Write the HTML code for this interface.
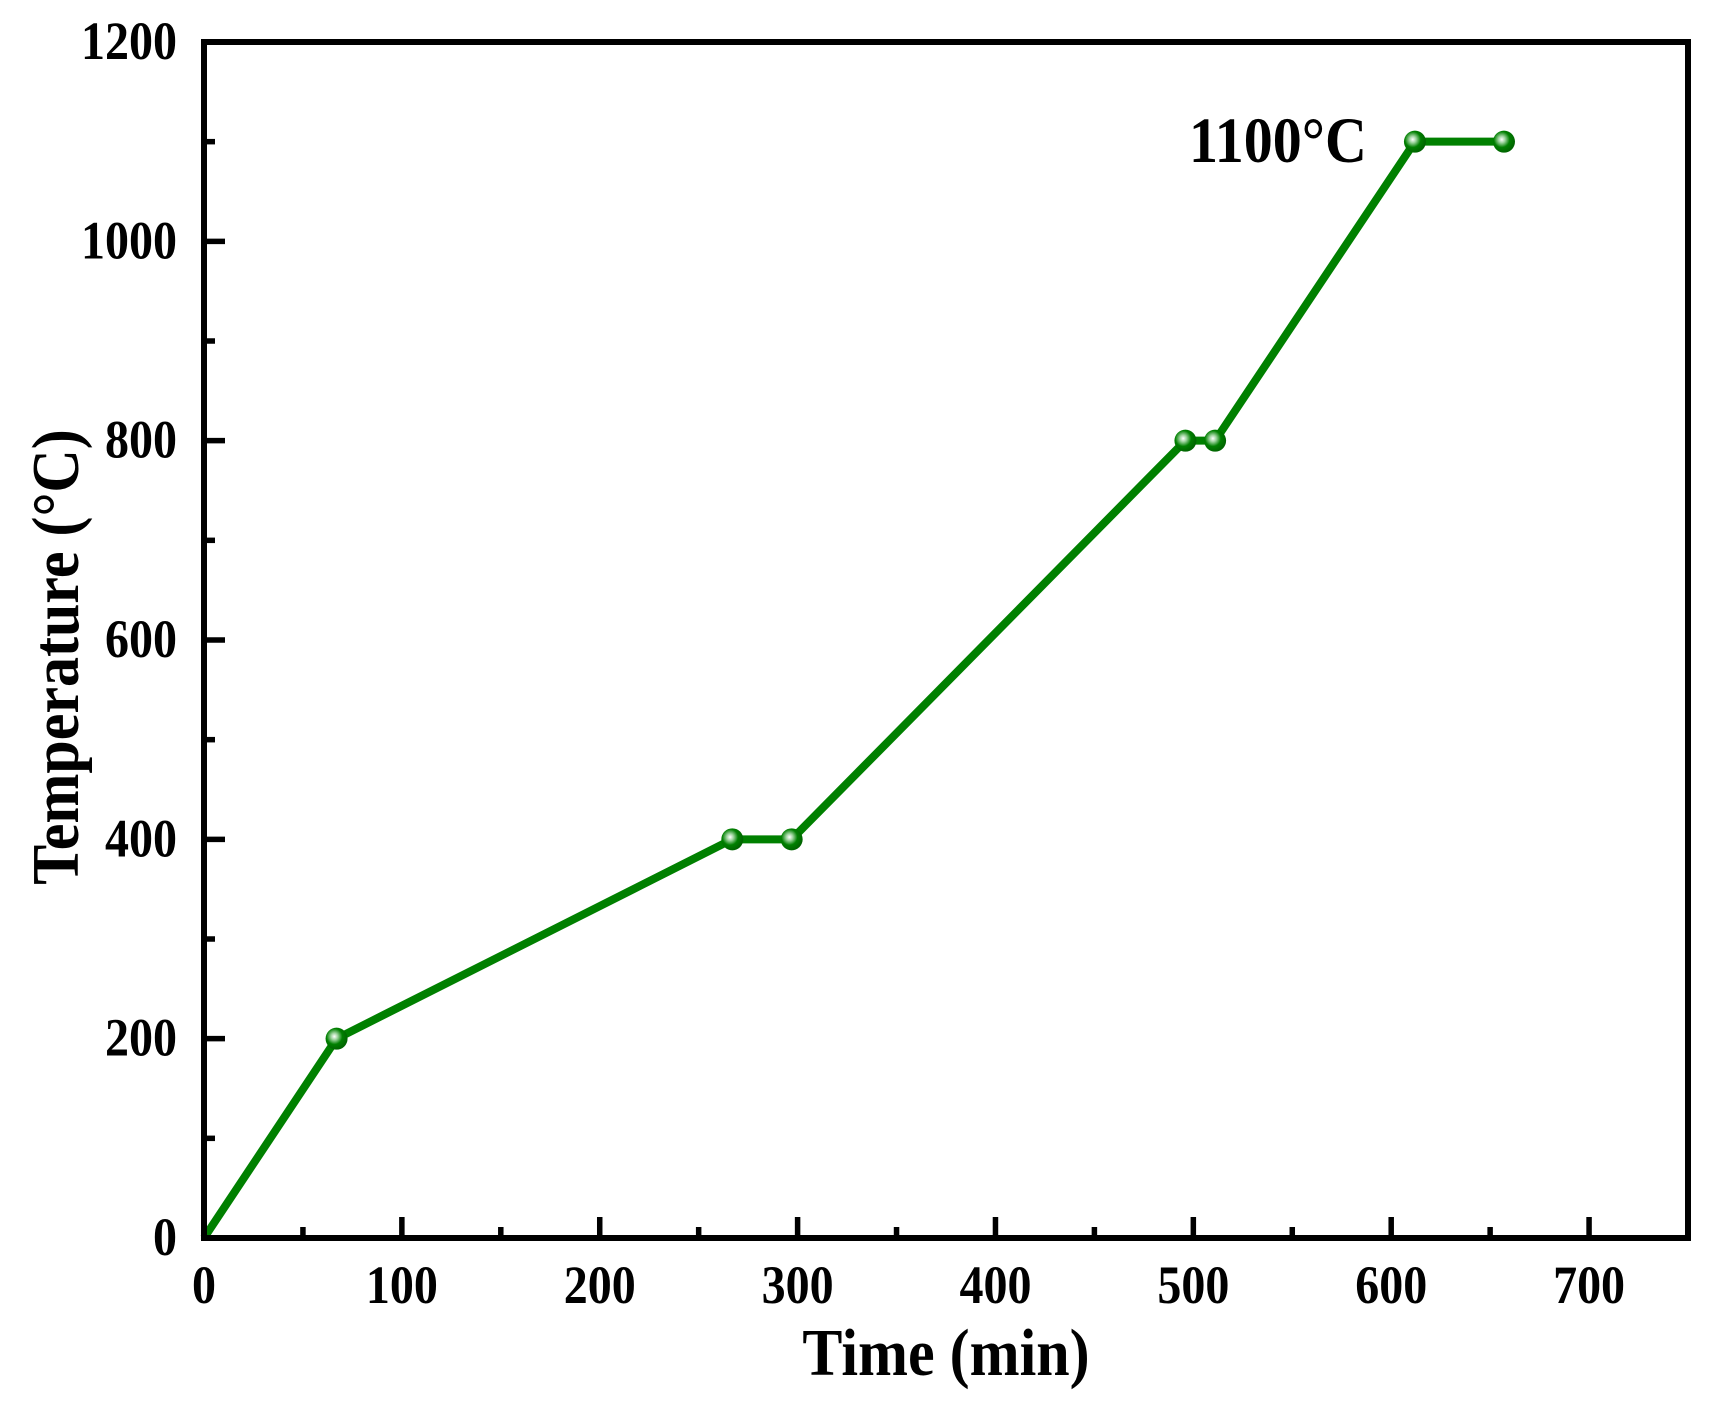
<!DOCTYPE html>
<html><head><meta charset="utf-8"><style>
html,body{margin:0;padding:0;background:#fff}
svg{display:block}
text{font-family:"Liberation Serif",serif;font-weight:bold;fill:#000}
</style></head><body>
<svg id="chart" width="1716" height="1418" viewBox="0 0 1716 1418" xmlns="http://www.w3.org/2000/svg">
<defs>
<radialGradient id="mk" cx="0.4" cy="0.4" r="0.6">
<stop offset="0" stop-color="#ffffff"/>
<stop offset="0.25" stop-color="#9fd49f"/>
<stop offset="0.6" stop-color="#008000"/>
<stop offset="1" stop-color="#006400"/>
</radialGradient>
</defs>
<g id="plot"></g>
<text transform="translate(946,1375) scale(1,1.12)" font-size="60" text-anchor="middle">Time (min)</text>
<text transform="translate(78,657) rotate(-90) scale(1,1.12)" font-size="60" text-anchor="middle">Temperature (°C)</text>
<text transform="translate(1189,162) scale(1,1.12)" font-size="58">1100°C</text>
</svg>
<script>
const times = [0, 67, 267, 297, 496, 511, 612, 657];
const temps = [0, 200, 400, 400, 800, 800, 1100, 1100];
const xTicks = [0, 100, 200, 300, 400, 500, 600, 700];
const yTicks = [0, 200, 400, 600, 800, 1000, 1200];
const X0=204, X1=1688, Y0=1238, Y1=42;
const xs = v => X0 + (v/750)*(X1-X0);
const ys = v => Y0 - (v/1200)*(Y0-Y1);
const NS="http://www.w3.org/2000/svg";
const g=document.getElementById('plot');
function mk(t,a){const e=document.createElementNS(NS,t);for(const k in a)e.setAttribute(k,a[k]);g.appendChild(e);return e;}
for(let v=0;v<=750;v+=50){
  const major=v%100===0;
  const t=mk('line',{x1:xs(v),x2:xs(v),y1:Y0,y2:Y0-(major?21:11),stroke:'#000','stroke-width':5.5});
  
  
}
for(let v=0;v<=1200;v+=100){
  const major=v%200===0;
  const t=mk('line',{x1:X0,x2:X0+(major?21:11),y1:ys(v),y2:ys(v),stroke:'#000','stroke-width':5.5});
  
  
}
xTicks.forEach(v=>{
  const t=mk('text',{transform:'translate('+xs(v)+',1303) scale(1,1.12)','font-size':48,'text-anchor':'middle'});
  t.textContent=v;
  
  
});
yTicks.forEach(v=>{
  const t=mk('text',{transform:'translate(177,'+(ys(v)+17)+') scale(1,1.12)','font-size':48,'text-anchor':'end'});
  t.textContent=v;
  
  
});
const pts=times.map((t,i)=>xs(t)+','+ys(temps[i])).join(' ');
const pl=mk('polyline',{points:pts,fill:'none',stroke:'#008000','stroke-width':8,'stroke-linejoin':'round'});


times.forEach((t,i)=>{
  if(i===0)return;
  const c=mk('circle',{cx:xs(t),cy:ys(temps[i]),r:11,fill:'url(#mk)'});
  
  
});
const f=mk('rect',{x:X0,y:Y1,width:X1-X0,height:Y0-Y1,fill:'none',stroke:'#000','stroke-width':6});


</script>
</body></html>
